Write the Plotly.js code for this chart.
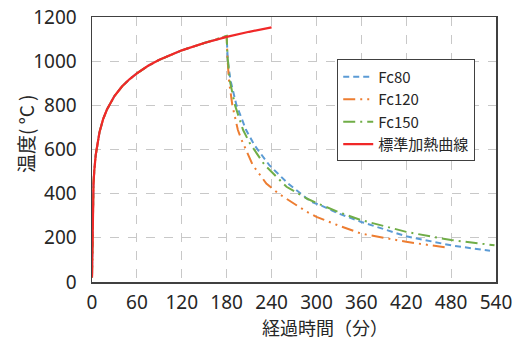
<!DOCTYPE html>
<html>
<head>
<meta charset="utf-8">
<script src="https://cdn.plot.ly/plotly-3.0.1.min.js"></script>
<style>html,body{margin:0;padding:0;background:#fff;}#chart{width:516px;height:342px;}</style>
</head>
<body>
<div id="chart"></div>
<script>
// Standard heating curve (標準加熱曲線)
const stdTime = [0, 1, 2, 3, 5, 10, 15, 20, 30, 40, 50, 60, 75, 90, 105, 120, 150, 180, 210, 240];
const stdTemp = [20, 349, 445, 502, 576, 678, 739, 781, 842, 885, 918, 945, 979, 1006, 1029, 1049, 1082, 1110, 1133, 1153];

// Fc80
const fc80Time = [0, 1, 2, 3, 5, 10, 15, 20, 30, 40, 50, 60, 75, 90, 105, 120, 150, 180, 181, 182, 185, 193, 206, 217, 237, 262, 293, 305, 330, 360, 420, 450, 480, 532];
const fc80Temp = [20, 349, 445, 502, 576, 678, 739, 781, 842, 885, 918, 945, 979, 1006, 1029, 1049, 1082, 1112, 1040, 990, 915, 802, 688, 620, 529, 446, 363, 348, 310, 272, 207, 185, 166, 141];

// Fc120
const fc120Time = [0, 1, 2, 3, 5, 10, 15, 20, 30, 40, 50, 60, 75, 90, 105, 120, 150, 180, 181, 183, 187.5, 195, 200, 215, 233, 249, 287, 300, 330, 360, 420, 478];
const fc120Temp = [20, 349, 445, 502, 576, 678, 739, 781, 842, 885, 918, 945, 979, 1006, 1029, 1049, 1082, 1112, 1020, 915, 802, 688, 643, 529, 446, 401, 318, 295, 255, 219, 182, 154];

// Fc150
const fc150Time = [0, 1, 2, 3, 5, 10, 15, 20, 30, 40, 50, 60, 75, 90, 105, 120, 150, 180, 181, 182, 184, 191, 202, 211, 231, 260, 287, 300, 330, 360, 420, 450, 480, 538];
const fc150Temp = [20, 349, 445, 502, 576, 678, 739, 781, 842, 885, 918, 945, 979, 1006, 1029, 1049, 1082, 1115, 1030, 990, 915, 802, 688, 628, 529, 431, 378, 358, 316, 280, 227, 208, 190, 166];

const xTicks = [0, 60, 120, 180, 240, 300, 360, 420, 480, 540];
const yTicks = [0, 200, 400, 600, 800, 1000, 1200];
const xTitle = '経過時間（分）';
const yTitle = '温度( °C )';

const traces = [
  {x: fc80Time, y: fc80Temp, name: 'Fc80', mode: 'lines', line: {color: '#5B9BD5', width: 2, dash: '6px,4px'}},
  {x: fc120Time, y: fc120Temp, name: 'Fc120', mode: 'lines', line: {color: '#ED7D31', width: 2, dash: '12px,5px,2px,5px,2px,5px'}},
  {x: fc150Time, y: fc150Temp, name: 'Fc150', mode: 'lines', line: {color: '#70AD47', width: 2, dash: '12px,5px,2px,5px'}},
  {x: stdTime, y: stdTemp, name: '標準加熱曲線', mode: 'lines', line: {color: '#F02828', width: 2.2}}
];

const tickFont = {family: '"Noto Sans", "Open Sans", sans-serif', size: 19, color: '#262626'};
const cjk = '"Noto Sans CJK JP", "Noto Sans", sans-serif';

const layout = {
  width: 516, height: 342,
  margin: {l: 92, r: 20, t: 17, b: 60},
  paper_bgcolor: '#fff', plot_bgcolor: '#fff',
  showlegend: true,
  legend: {
    x: 0.607, y: 0.84, xanchor: 'left', yanchor: 'top',
    bgcolor: '#fff', bordercolor: '#404040', borderwidth: 1,
    font: {family: cjk, size: 15, color: '#262626'},
    tracegroupgap: 0
  },
  xaxis: {
    range: [0, 540], tickvals: xTicks, ticktext: xTicks.map(String),
    showgrid: true, gridcolor: '#c8c8c8', griddash: 'dash', gridwidth: 1,
    showline: true, linecolor: '#404040', linewidth: 1.5, mirror: true,
    ticks: '', zeroline: false, tickfont: tickFont, ticklabelstandoff: 3
  },
  yaxis: {
    range: [0, 1200], tickvals: yTicks, ticktext: yTicks.map(String),
    showgrid: true, gridcolor: '#c8c8c8', griddash: 'dash', gridwidth: 1,
    showline: true, linecolor: '#404040', linewidth: 1.5, mirror: true,
    ticks: '', zeroline: false, tickfont: tickFont, ticklabelstandoff: 10
  },
  annotations: [
    {text: xTitle, xref: 'paper', yref: 'paper', x: 0.576, y: -0.17, xanchor: 'center', yanchor: 'middle',
     showarrow: false, font: {family: cjk, size: 18, color: '#262626'}},
    {text: yTitle, xref: 'paper', yref: 'paper', x: -0.166, y: 0.562, xanchor: 'center', yanchor: 'middle',
     textangle: -90, showarrow: false, font: {family: cjk, size: 19, color: '#262626'}}
  ]
};

Plotly.newPlot('chart', traces, layout, {displayModeBar: false, staticPlot: true});
</script>
</body>
</html>
